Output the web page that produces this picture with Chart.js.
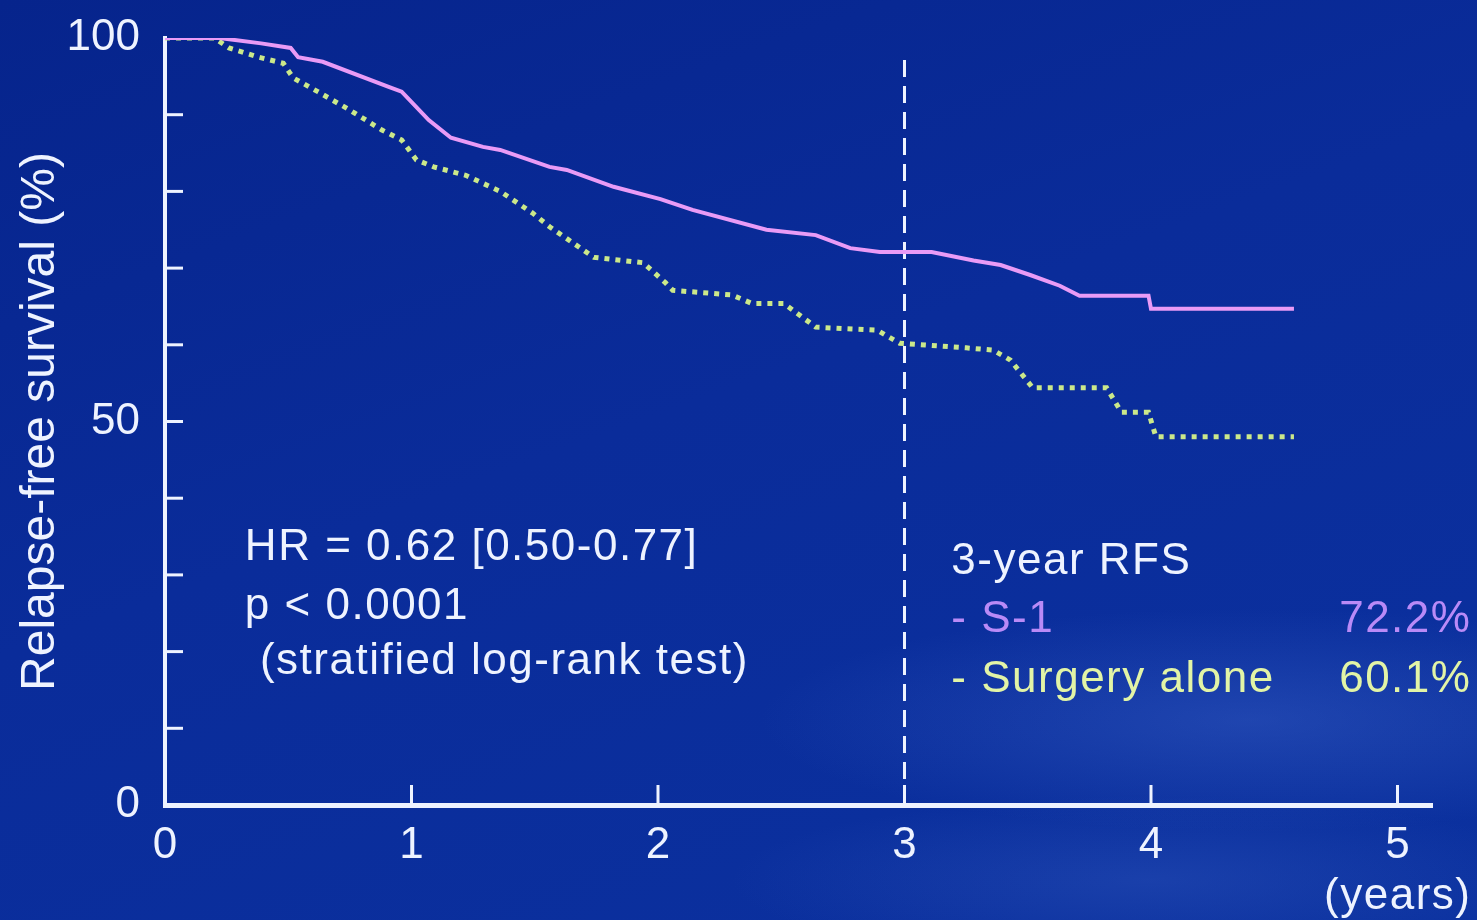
<!DOCTYPE html>
<html>
<head>
<meta charset="utf-8">
<script src="https://cdn.jsdelivr.net/npm/chart.js@4.4.1/dist/chart.umd.min.js"></script>
<style>
  html, body { margin: 0; padding: 0; }
  body {
    width: 1477px; height: 920px; overflow: hidden;
    background:
      radial-gradient(ellipse 700px 160px at 1250px 720px, rgba(70,110,210,0.35), rgba(70,110,210,0) 70%),
      radial-gradient(ellipse 600px 120px at 1150px 880px, rgba(60,100,200,0.3), rgba(60,100,200,0) 70%),
      linear-gradient(160deg, #06248c 0%, #0a2c9a 45%, #0b319f 100%);
  }
  #wrap { position: relative; width: 1477px; height: 920px; }
</style>
</head>
<body>
<div id="wrap"><canvas id="km"></canvas></div>
<script>
// Kaplan-Meier estimates (years, % relapse-free)
const s1Years = [0, 0.22, 0.39, 0.51, 0.54, 0.64, 0.91, 0.96, 1.07, 1.16, 1.29, 1.36, 1.56, 1.63, 1.82, 2.01, 2.14, 2.44, 2.64, 2.78, 2.90, 3.11, 3.28, 3.39, 3.51, 3.63, 3.71, 3.99, 4.00, 4.58];
const s1Rfs   = [100, 100, 99.3, 98.7, 97.5, 96.9, 93.6, 93.0, 89.3, 87.0, 85.8, 85.4, 83.2, 82.8, 80.6, 79.0, 77.6, 75.0, 74.3, 72.6, 72.1, 72.1, 71.0, 70.4, 69.1, 67.7, 66.4, 66.4, 64.7, 64.7];

const surgYears = [0, 0.20, 0.26, 0.38, 0.48, 0.52, 0.62, 0.75, 0.88, 0.96, 1.02, 1.09, 1.22, 1.36, 1.49, 1.56, 1.74, 1.94, 2.03, 2.06, 2.30, 2.38, 2.51, 2.64, 2.89, 2.98, 3.25, 3.36, 3.43, 3.52, 3.82, 3.88, 3.99, 4.02, 4.58];
const surgRfs   = [100, 100, 98.7, 97.5, 96.7, 94.8, 93.0, 90.6, 88.0, 86.7, 84.1, 83.2, 82.1, 80.0, 77.2, 75.4, 71.4, 70.7, 68.1, 67.1, 66.5, 65.4, 65.4, 62.3, 61.9, 60.2, 59.6, 59.3, 58.0, 54.4, 54.4, 51.2, 51.2, 48.0, 48.0];

const landmarkYear = 3;
const xTickLabels = ['0', '1', '2', '3', '4', '5'];
const yTickLabels = { 0: '0', 50: '50', 100: '100' };

const FONT = "'Liberation Sans', Arial, sans-serif";
const WHITE = '#eef3ff';
const PINK = '#e99bf6';
const GREEN = '#cbe88a';

const toPoints = (xs, ys) => xs.map((x, i) => ({ x: x, y: ys[i] }));

// tick marks point inward, into the plot
const innerTicks = {
  id: 'innerTicks',
  afterDraw(chart) {
    const { ctx, scales: { x, y } } = chart;
    ctx.save();
    ctx.strokeStyle = WHITE;
    ctx.lineWidth = 3;
    const x0 = x.getPixelForValue(0);
    for (let v = 10; v < 100; v += 10) {
      const py = y.getPixelForValue(v);
      ctx.beginPath(); ctx.moveTo(x0, py); ctx.lineTo(x0 + 18, py); ctx.stroke();
    }
    const y0 = y.getPixelForValue(0);
    for (let v = 1; v <= 5; v++) {
      const px = x.getPixelForValue(v);
      ctx.beginPath(); ctx.moveTo(px, y0); ctx.lineTo(px, y0 - 20); ctx.stroke();
    }
    ctx.restore();
  }
};

const notes = {
  id: 'notes',
  afterDraw(chart) {
    const { ctx, scales: { x, y } } = chart;
    const put = (txt, xv, yv, color, align) => {
      ctx.fillStyle = color;
      ctx.textAlign = align || 'left';
      ctx.fillText(txt, x.getPixelForValue(xv), y.getPixelForValue(yv));
    };
    ctx.save();
    ctx.font = '44px ' + FONT;
    ctx.letterSpacing = '1.5px';
    ctx.textBaseline = 'middle';
    put('HR = 0.62 [0.50-0.77]', 0.324, 33.5, WHITE);
    put('p < 0.0001', 0.324, 25.8, WHITE);
    put('(stratified log-rank test)', 0.385, 18.6, WHITE);
    put('3-year RFS', 3.19, 31.7, WHITE);
    put('- S-1', 3.19, 24.1, '#b98af7');
    put('72.2%', 5.30, 24.1, '#b98af7', 'right');
    put('- Surgery alone', 3.19, 16.3, '#e2f4a6');
    put('60.1%', 5.30, 16.3, '#e2f4a6', 'right');
    put('(years)', 5.30, -12.0, WHITE, 'right');
    ctx.restore();
  }
};

new Chart(document.getElementById('km'), {
  type: 'scatter',
  data: {
    datasets: [
      {
        label: 'S-1',
        data: toPoints(s1Years, s1Rfs),
        showLine: true,
        borderColor: PINK,
        borderWidth: 4,
        pointRadius: 0,
        tension: 0
      },
      {
        label: 'Surgery alone',
        data: toPoints(surgYears, surgRfs),
        showLine: true,
        borderColor: GREEN,
        borderWidth: 5,
        borderDash: [5, 6],
        pointRadius: 0,
        tension: 0
      },
      {
        label: '3-year landmark',
        data: [{ x: landmarkYear, y: 0 }, { x: landmarkYear, y: 98.3 }],
        showLine: true,
        borderColor: WHITE,
        borderWidth: 3,
        borderDash: [17, 9],
        pointRadius: 0
      }
    ]
  },
  options: {
    responsive: true,
    maintainAspectRatio: false,
    animation: false,
    layout: { padding: { top: 38, right: 45, left: 0, bottom: 0 } },
    plugins: {
      legend: { display: false },
      tooltip: { enabled: false }
    },
    scales: {
      x: {
        type: 'linear',
        min: 0,
        max: 5.14,
        grid: { display: false },
        border: { display: true, color: WHITE, width: 5 },
        afterBuildTicks: (scale) => {
          scale.ticks = xTickLabels.map((_, i) => ({ value: i }));
        },
        afterFit: (scale) => {
          scale.height = 115;
          scale.paddingLeft = 0;
          scale.paddingRight = 0;
        },
        ticks: {
          padding: 6,
          color: WHITE,
          font: { size: 44, family: FONT },
          callback: (v) => xTickLabels[v]
        }
      },
      y: {
        min: 0,
        max: 100,
        grid: { display: false },
        border: { display: true, color: WHITE, width: 4 },
        afterFit: (scale) => {
          scale.width = 165;
          scale.paddingTop = 0;
          scale.paddingBottom = 0;
        },
        title: {
          display: true,
          text: 'Relapse-free survival (%)',
          color: WHITE,
          font: { size: 48, family: FONT },
          padding: { top: 12, bottom: 0 }
        },
        ticks: {
          stepSize: 50,
          padding: 17,
          color: WHITE,
          font: { size: 44, family: FONT },
          callback: (v) => yTickLabels[v] || ''
        }
      }
    }
  },
  plugins: [innerTicks, notes]
});
</script>
</body>
</html>
